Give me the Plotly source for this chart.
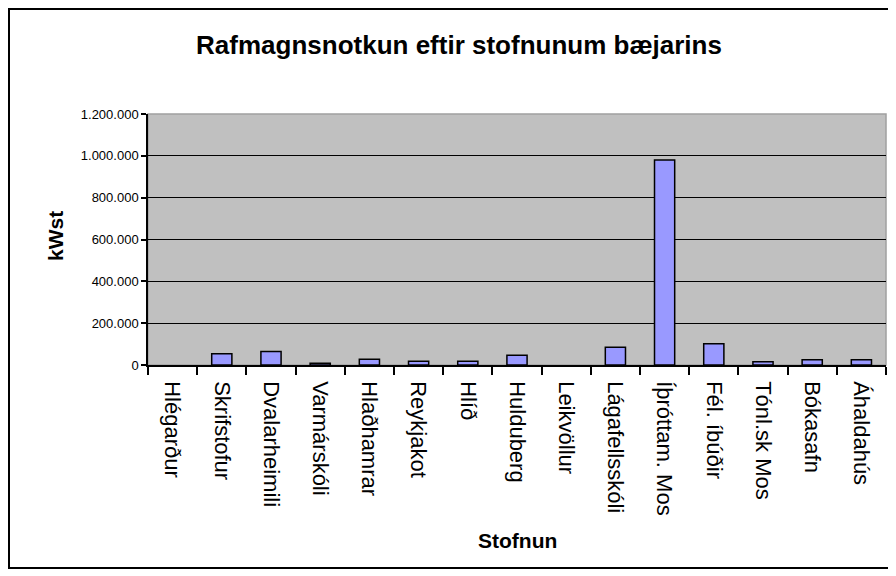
import plotly.graph_objects as go

categories = ["Hlégarður", "Skrifstofur", "Dvalarheimili", "Varmárskóli", "Hlaðhamrar",
              "Reykjakot", "Hlíð", "Hulduberg", "Leikvöllur", "Lágafellsskóli",
              "Íþróttam. Mos", "Fél. íbúðir", "Tónl.sk Mos", "Bókasafn", "Áhaldahús"]
kwst = [0, 54000, 64000, 8000, 27000, 18000, 18000, 47000, 0, 85000,
        980000, 102000, 16000, 25000, 25000]
y_ticks = [0, 200000, 400000, 600000, 800000, 1000000, 1200000]

OFF = 8  # page body margin
W, H = 896 - OFF, 576 - OFF
L, R, T, B = 148 - OFF, 886 - OFF, 114 - OFF, 365 - OFF

fig = go.Figure()
fig.add_trace(go.Bar(
    x=categories, y=kwst,
    marker=dict(color="#9999FF",
                line=dict(color="black", width=[0 if v == 0 else 1.5 for v in kwst])),
))

font = "Arial, Liberation Sans, sans-serif"
pw, ph = R - L, B - T

def px_x(p):
    return (p - OFF - L) / pw

def px_y(p):
    return (B - (p - OFF)) / ph

fig.update_layout(
    width=W, height=H,
    margin=dict(l=L, r=W - R, t=T, b=H - B, pad=0),
    paper_bgcolor="white", plot_bgcolor="#C0C0C0",
    separators=",.",
    showlegend=False,
    bargap=0.59,
    font=dict(family=font, color="black"),
    title=dict(text="<b>Rafmagnsnotkun eftir stofnunum bæjarins</b>",
               x=(459 - OFF) / W, xanchor="center", y=1 - (45 - OFF) / H, yanchor="middle",
               font=dict(size=26, family=font, color="black")),
    xaxis=dict(
        type="category", tickangle=90, tickfont=dict(size=22),
        ticks="outside", tickson="boundaries", ticklen=8, tickwidth=1.5, tickcolor="black",
        ticklabelstandoff=10,
        showline=True, linecolor="black", linewidth=1.5, showgrid=False,
        automargin=False,
    ),
    yaxis=dict(
        range=[0, 1200000], tickvals=y_ticks, tickformat=",d",
        tickfont=dict(size=13), ticks="outside", ticklen=5, tickwidth=1.5, tickcolor="black",
        showline=True, linecolor="black", linewidth=1.5,
        showgrid=True, gridcolor="black", gridwidth=1, zeroline=False,
        automargin=False,
    ),
    shapes=[
        dict(type="rect", xref="paper", yref="paper", x0=0, x1=1, y0=0, y1=1,
             line=dict(color="#A0A0A0", width=1.5), layer="below"),
        dict(type="rect", xref="paper", yref="paper",
             x0=px_x(9), x1=px_x(889), y0=px_y(568), y1=px_y(9),
             line=dict(color="black", width=2)),
    ],
)

fig.add_annotation(text="<b>Stofnun</b>", xref="paper", yref="paper",
                   x=px_x(518), y=px_y(540), showarrow=False,
                   font=dict(size=21, family=font, color="black"),
                   xanchor="center", yanchor="middle")
fig.add_annotation(text="<b>kWst</b>", xref="paper", yref="paper",
                   x=px_x(55), y=px_y(236), showarrow=False, textangle=-90,
                   font=dict(size=21, family=font, color="black"),
                   xanchor="center", yanchor="middle")

fig.write_html("out.html")
